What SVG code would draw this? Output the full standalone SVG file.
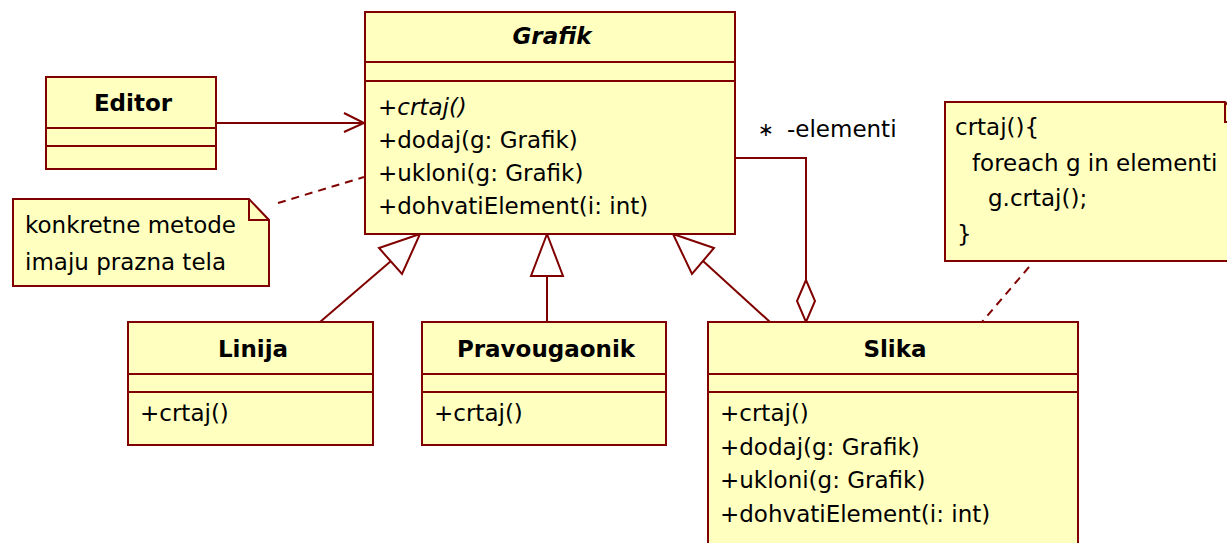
<svg xmlns="http://www.w3.org/2000/svg" width="1227" height="543" viewBox="0 0 1227 543">
<style>
.box{fill:#ffffc0;stroke:#800000;stroke-width:2}
.ln{fill:none;stroke:#800000;stroke-width:2}
.dash{fill:none;stroke:#800000;stroke-width:2;stroke-dasharray:8,6}
.tri{fill:#ffffff;stroke:#800000;stroke-width:2}
text{font-family:"DejaVu Sans",Verdana,sans-serif;font-size:23px;fill:#000}
.t{font-weight:bold;text-anchor:middle}
.ab{font-style:italic}
.star{font-size:19px}
</style>
<rect width="1227" height="543" fill="#ffffff"/>
<g id="connectors">
  <line class="ln" x1="216" y1="123" x2="364" y2="123"/>
  <polyline class="ln" points="344,113 364,123 344,132"/>
  <line class="dash" x1="278" y1="203" x2="364" y2="177"/>
  <line class="ln" x1="320" y1="322" x2="391" y2="261"/>
  <polygon class="tri" points="420,234 379,248 402,274"/>
  <line class="ln" x1="547" y1="322" x2="547" y2="276"/>
  <polygon class="tri" points="547,234 531,276 563,276"/>
  <line class="ln" x1="770" y1="322" x2="703" y2="261"/>
  <polygon class="tri" points="673,234 714,248 692,274"/>
  <polyline class="ln" points="736,158 806,158 806,280"/>
  <polygon class="tri" points="806,280 797,301 806,322 815,301"/>
  <text class="star" x="758" y="136">∗</text>
  <text x="787" y="137">-elementi</text>
  <line class="dash" x1="1029" y1="267" x2="982" y2="322"/>
</g>
<g id="Grafik">
  <rect class="box" x="365" y="12" width="370" height="222"/>
  <line class="ln" x1="365" y1="62" x2="735" y2="62"/>
  <line class="ln" x1="365" y1="81" x2="735" y2="81"/>
  <text class="t ab" x="552" y="44">Grafik</text>
  <text class="ab" x="378" y="115">+crtaj()</text>
  <text x="378" y="148">+dodaj(g: Grafik)</text>
  <text x="378" y="181">+ukloni(g: Grafik)</text>
  <text x="378" y="214">+dohvatiElement(i: int)</text>
</g>
<g id="Editor">
  <rect class="box" x="46" y="77" width="170" height="92"/>
  <line class="ln" x1="46" y1="128" x2="216" y2="128"/>
  <line class="ln" x1="46" y1="146" x2="216" y2="146"/>
  <text class="t" x="133" y="111">Editor</text>
</g>
<g id="note1">
  <path class="box" d="M13,199 L249,199 L269,220 L269,286 L13,286 Z"/>
  <polyline class="ln" points="249,199 249,220 269,220"/>
  <text x="25" y="233">konkretne metode</text>
  <text x="25" y="270">imaju prazna tela</text>
</g>
<g id="Linija">
  <rect class="box" x="128" y="322" width="245" height="123"/>
  <line class="ln" x1="128" y1="374" x2="373" y2="374"/>
  <line class="ln" x1="128" y1="392" x2="373" y2="392"/>
  <text class="t" x="253" y="357">Linija</text>
  <text x="140" y="421">+crtaj()</text>
</g>
<g id="Pravougaonik">
  <rect class="box" x="422" y="322" width="244" height="123"/>
  <line class="ln" x1="422" y1="374" x2="666" y2="374"/>
  <line class="ln" x1="422" y1="392" x2="666" y2="392"/>
  <text class="t" x="546" y="357">Pravougaonik</text>
  <text x="434" y="421">+crtaj()</text>
</g>
<g id="Slika">
  <rect class="box" x="708" y="322" width="370" height="240"/>
  <line class="ln" x1="708" y1="374" x2="1078" y2="374"/>
  <line class="ln" x1="708" y1="392" x2="1078" y2="392"/>
  <text class="t" x="895" y="357">Slika</text>
  <text x="720" y="421">+crtaj()</text>
  <text x="720" y="455">+dodaj(g: Grafik)</text>
  <text x="720" y="488">+ukloni(g: Grafik)</text>
  <text x="720" y="522">+dohvatiElement(i: int)</text>
</g>
<g id="note2">
  <path class="box" d="M945,102 L1225,102 L1245,122 L1245,261 L945,261 Z"/>
  <polyline class="ln" points="1225,102 1225,122 1245,122"/>
  <text x="955" y="135">crtaj(){</text>
  <text x="972" y="171">foreach g in elementi</text>
  <text x="988" y="206">g.crtaj();</text>
  <text x="957" y="242">}</text>
</g>
</svg>
